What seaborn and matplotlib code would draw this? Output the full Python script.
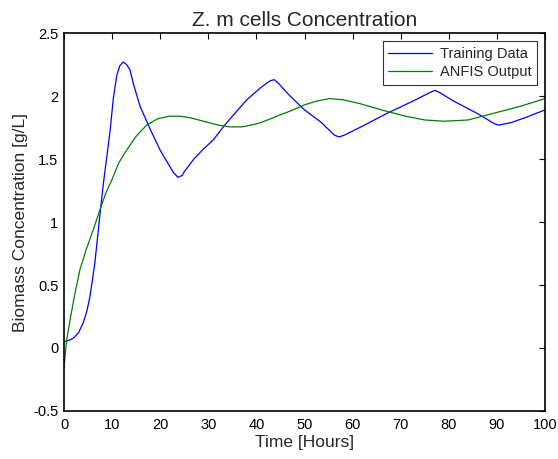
import numpy as np
import pandas as pd
import seaborn as sns
import matplotlib
matplotlib.use("Agg")
import matplotlib.pyplot as plt

# training data
t_train = [0, 1, 2, 3, 4, 4.8, 5.4, 6.4, 7.5, 8.2, 9, 9.6, 10.25, 10.95, 11.6, 12.3, 13.0,
           13.7, 14.4, 15.8, 18, 20, 22, 22.8, 23.7, 24.6, 25, 27, 29, 31, 33, 35, 38, 41,
           42.8, 43.7, 44.6, 47, 50, 53.5, 56.2, 57.2, 58.3, 62, 67, 72, 76.2, 77.1, 78,
           81, 86, 89.5, 90.3, 91.2, 93, 96, 100]
y_train = [0.05, 0.06, 0.08, 0.12, 0.20, 0.30, 0.41, 0.67, 1.07, 1.31, 1.55, 1.73, 1.98,
           2.16, 2.24, 2.27, 2.25, 2.21, 2.10, 1.92, 1.73, 1.57, 1.44, 1.39, 1.355, 1.37,
           1.40, 1.50, 1.58, 1.65, 1.75, 1.84, 1.97, 2.07, 2.12, 2.13, 2.10, 2.00, 1.89,
           1.79, 1.69, 1.675, 1.69, 1.76, 1.86, 1.95, 2.03, 2.045, 2.03, 1.96, 1.86, 1.78,
           1.77, 1.775, 1.79, 1.83, 1.89]

# anfis output
t_anfis = [0, 0.5, 1.25, 2.2, 3.3, 4.6, 6.1, 7.5, 8.7, 9.9, 11.4, 13, 15, 17.2, 19.5, 22,
           24, 26, 28, 30, 32, 34.5, 37, 39, 41, 43, 44.9, 47, 50, 52.5, 55.3, 58, 61.5,
           66, 71, 75, 79, 84, 90, 95, 100]
y_anfis = [-0.16, 0.05, 0.22, 0.42, 0.62, 0.78, 0.94, 1.10, 1.23, 1.33, 1.47, 1.57, 1.68,
           1.77, 1.82, 1.84, 1.84, 1.83, 1.81, 1.79, 1.77, 1.755, 1.755, 1.77, 1.79, 1.82,
           1.85, 1.88, 1.93, 1.96, 1.98, 1.97, 1.94, 1.89, 1.84, 1.81, 1.80, 1.81, 1.87,
           1.92, 1.98]

x_ticks = list(range(0, 101, 10))
y_ticks = [-0.5, 0, 0.5, 1, 1.5, 2, 2.5]
y_tick_labels = ['-0.5', '0', '0.5', '1', '1.5', '2', '2.5']

sns.set_style("white")
plt.rcParams['font.family'] = ['Liberation Sans', 'DejaVu Sans']

df = pd.concat([
    pd.DataFrame({'t': t_train, 'y': y_train, 'series': 'Training Data'}),
    pd.DataFrame({'t': t_anfis, 'y': y_anfis, 'series': 'ANFIS Output'}),
])

fig = plt.figure(figsize=(5.58, 4.59), dpi=100)
ax = fig.add_axes([0.1147, 0.1046, 0.862, 0.8234])
sns.lineplot(data=df, x='t', y='y', hue='series', sort=False, estimator=None,
             palette={'Training Data': '#0000ff', 'ANFIS Output': '#008000'},
             linewidth=0.9, ax=ax)

ax.set_xlim(0, 100)
ax.set_ylim(-0.5, 2.5)
ax.set_xticks(x_ticks)
ax.set_yticks(y_ticks)
ax.set_xticklabels([str(v) for v in x_ticks])
ax.set_yticklabels(y_tick_labels)
ax.tick_params(direction='in', length=4, width=0.8, top=True, right=True,
               labelsize=10.5, colors='black')
ax.tick_params(axis='y', pad=4)
ax.tick_params(axis='x', pad=5)
for s in ax.spines.values():
    s.set_visible(True)
    s.set_color('black')
    s.set_linewidth(1.2)

ax.set_xlabel('Time [Hours]', fontsize=12.5, labelpad=2)
ax.set_ylabel('Biomass Concentration [g/L]', fontsize=12.5, labelpad=4)
ax.set_title('Z. m cells Concentration', fontsize=15, pad=5)

leg = ax.legend(loc='upper right', fontsize=10.5, frameon=True, fancybox=False,
                edgecolor='black', handlelength=3.0, handletextpad=0.5,
                borderaxespad=0.55, borderpad=0.4, labelspacing=0.3)
leg.get_frame().set_linewidth(0.8)
leg.set_title(None)

fig.savefig('out.png', dpi=100)
